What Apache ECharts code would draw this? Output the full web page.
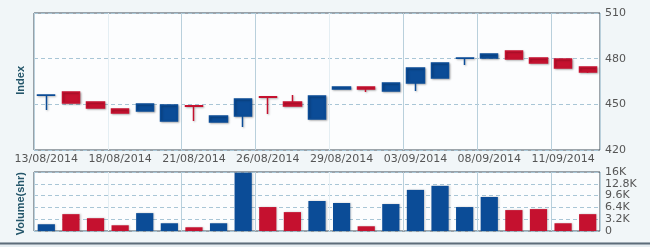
<!DOCTYPE html>
<html><head><meta charset="utf-8">
<script src="https://cdn.jsdelivr.net/npm/echarts@6/dist/echarts.min.js"></script>
<style>html,body{margin:0;padding:0;background:#f1f6f8;}#c{width:650px;height:247px;}</style>
</head><body><div id="c"></div>
<script>
var dates = ['13/08/2014','14/08/2014','15/08/2014','18/08/2014','19/08/2014','20/08/2014','21/08/2014','22/08/2014','25/08/2014','26/08/2014','27/08/2014','28/08/2014','29/08/2014','01/09/2014','02/09/2014','03/09/2014','04/09/2014','05/09/2014','08/09/2014','09/09/2014','10/09/2014','11/09/2014','12/09/2014'];
var opens  = [456.0,458.1,451.5,446.9,445.6,439.0,449.0,438.4,442.3,454.9,451.5,440.4,460.1,461.4,458.8,464.0,467.3,480.3,480.4,485.0,480.4,479.8,474.5];
var closes = [456.2,450.9,447.6,444.3,450.2,449.6,448.8,442.3,453.5,454.7,448.9,455.5,461.4,460.1,464.0,473.9,477.2,480.5,483.1,479.8,477.2,473.9,471.2];
var lows   = [446.3,450.9,447.6,444.3,445.6,439.0,439.0,438.4,435.1,443.6,448.9,440.4,460.1,458.1,458.8,458.8,467.3,475.8,480.4,479.8,477.2,473.9,470.6];
var highs  = [456.2,458.1,451.5,446.9,450.2,449.6,449.0,442.3,453.5,454.9,456.1,455.5,461.4,461.4,464.0,473.9,477.2,480.5,483.1,485.0,480.4,479.8,474.5];
var volumes = [1830,4570,3470,1550,4850,2100,1010,2100,15800,6490,5120,8140,7590,1280,7310,11150,12250,6490,9230,5670,5940,2100,4570];
var priceTicks = [420,450,480,510];
var volTicks = [0,3200,6400,9600,12800,16000];

var BLUE = '#0b4c97', RED = '#c5112f';
var candleData = dates.map(function(d,i){return [opens[i],closes[i],lows[i],highs[i]];});
var volData = volumes.map(function(v,i){
  return {value:v, itemStyle:{color: closes[i] >= opens[i] ? BLUE : RED}};
});
var gridIdx = {0:1,3:1,6:1,9:1,12:1,15:1,18:1,21:1};
var splitColors = ['#b9d0dc','#e4eef3','#b9d0dc','#b9d0dc','#e4eef3','#b9d0dc','#b9d0dc','#b9d0dc'];
var lbl = {color:'#555', fontSize:11, fontFamily:'DejaVu Sans'};

var chart = echarts.init(document.getElementById('c'), null, {renderer:'canvas'});
chart.setOption({
  animation:false,
  backgroundColor:'#f1f6f8',
  grid:[
    {left:34, top:13, width:566, height:137, show:true, borderColor:'#3e4c58', borderWidth:1, backgroundColor:'#fcfdfe'},
    {left:34, top:172, width:566, height:59, show:true, borderColor:'#3e4c58', borderWidth:1, backgroundColor:'#fcfdfe'}
  ],
  xAxis:[
    {type:'category', data:dates, gridIndex:0, boundaryGap:true,
     axisLine:{show:false}, axisTick:{show:false},
     axisLabel:Object.assign({interval:2, margin:4}, lbl),
     splitLine:{show:true, interval:function(i){return !!gridIdx[i];}, lineStyle:{color:splitColors, width:1}}},
    {type:'category', data:dates, gridIndex:1, boundaryGap:true,
     axisLine:{show:false}, axisTick:{show:false}, axisLabel:{show:false},
     splitLine:{show:true, interval:function(i){return !!gridIdx[i];}, lineStyle:{color:splitColors, width:1}}}
  ],
  yAxis:[
    {type:'value', gridIndex:0, position:'right', min:priceTicks[0], max:priceTicks[priceTicks.length-1], interval:30,
     axisLine:{show:false}, axisTick:{show:false}, axisLabel:Object.assign({margin:5}, lbl),
     splitLine:{show:true, lineStyle:{color:'#a9c6d6', type:[4,3]}}},
    {type:'value', gridIndex:1, position:'right', min:volTicks[0], max:volTicks[volTicks.length-1], interval:3200,
     axisLine:{show:false}, axisTick:{show:false},
     axisLabel:Object.assign({margin:5, formatter:function(v){return v===0?'0':(v/1000)+'K';}}, lbl),
     splitLine:{show:true, lineStyle:{color:'#a9c6d6', type:[4,3]}}}
  ],
  series:[
    {type:'candlestick', xAxisIndex:0, yAxisIndex:0, data:candleData, barWidth:'72%',
     itemStyle:{color:BLUE, color0:RED, borderColor:BLUE, borderColor0:RED, borderWidth:1.5,
       shadowBlur:2, shadowColor:'rgba(0,0,0,0.25)', shadowOffsetX:1, shadowOffsetY:1}},
    {type:'bar', xAxisIndex:1, yAxisIndex:1, data:volData, barWidth:'70%',
     itemStyle:{shadowBlur:2, shadowColor:'rgba(0,0,0,0.2)', shadowOffsetX:1, shadowOffsetY:0}}
  ],
  graphic:[
    {type:'text', left:15, top:66, rotation:Math.PI/2,
     style:{text:'Index', fill:'#24566a', font:'bold 11px "Liberation Sans"'}},
    {type:'text', left:15, top:172, rotation:Math.PI/2,
     style:{text:'Volume(shr)', fill:'#24566a', font:'bold 11px "Liberation Sans"'}},
    {type:'rect', shape:{x:0,y:242,width:650,height:5}, style:{fill:'#e6edf1'}},
    {type:'line', shape:{x1:0,y1:243.5,x2:650,y2:243.5}, style:{stroke:'#5d6d7a', lineWidth:2}}
  ]
});
</script></body></html>
